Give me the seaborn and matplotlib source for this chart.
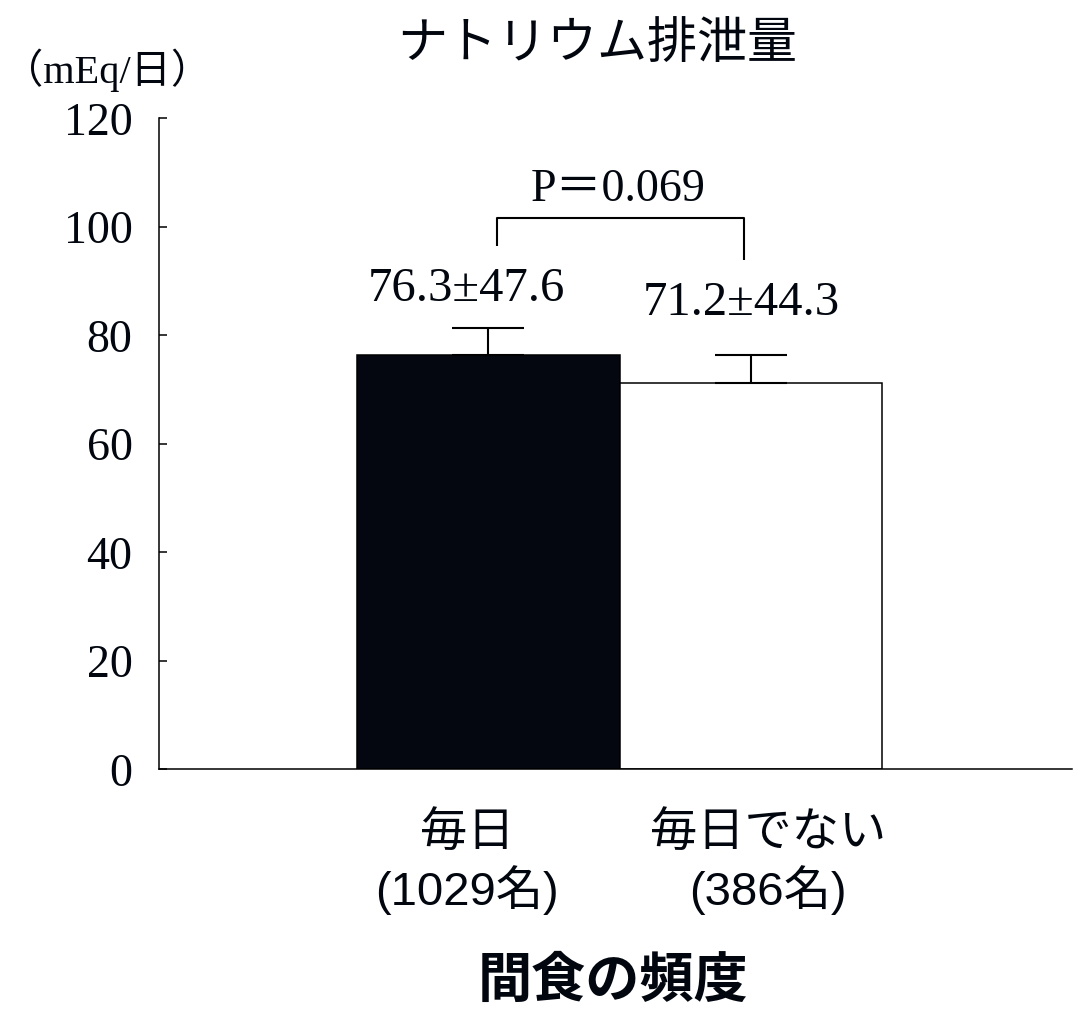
import matplotlib
matplotlib.use("Agg")
import matplotlib.pyplot as plt
from matplotlib.transforms import ScaledTranslation
import seaborn as sns
import pandas as pd

# Data
categories = ["毎日\n(1029名)", "毎日でない\n(386名)"]
means = [76.3, 71.2]
errors = [5.0, 5.1]
value_labels = ["76.3±47.6", "71.2±44.3"]
p_label = "P＝0.069"
yticks = [0, 20, 40, 60, 80, 100, 120]

title = "ナトリウム排泄量"
unit_label = "（mEq/日）"
x_title = "間食の頻度"

sns.set_theme(style="white")
plt.rcParams["font.family"] = ["Liberation Serif", "Noto Sans CJK JP"]

ink = "#02060f"
bar_colors = ["#020611", "#ffffff"]

fig = plt.figure(figsize=(10.74, 10.11), dpi=100)
ax = fig.add_axes([0.148, 0.239, 0.850, 0.644])

df = pd.DataFrame({"cat": categories, "val": means})
sns.barplot(data=df, x="cat", y="val", hue="cat", palette=bar_colors,
            edgecolor="black", linewidth=1.1, width=1.0, errorbar=None,
            legend=False, ax=ax)

# upper-only error bars
xs = list(range(len(means)))
ax.errorbar(xs, means, yerr=[[0] * len(errors), errors], fmt="none",
            ecolor="black", elinewidth=1.5, capsize=26, capthick=1.5, zorder=3)

ax.set_xlim(-1.255, 2.223)
ax.set_ylim(0, 120)
ax.set_yticks(yticks)
ax.set_yticklabels([str(t) for t in yticks])
ax.set_xlabel("")
ax.set_ylabel("")

for side in ["top", "right"]:
    ax.spines[side].set_visible(False)
for side in ["left", "bottom"]:
    ax.spines[side].set_color("black")
    ax.spines[side].set_linewidth(1.1)

ax.tick_params(axis="y", direction="in", length=6, width=1.1, color="black",
               pad=19, labelsize=33, labelcolor=ink, left=True)
ax.tick_params(axis="x", length=0, pad=31, labelcolor=ink)
for lbl, dx in zip(ax.get_xticklabels(), [-21, 17]):
    lbl.set_fontfamily(["Liberation Sans", "Noto Sans CJK JP"])
    lbl.set_fontsize(34)
    lbl.set_linespacing(1.22)
    lbl.set_multialignment("center")
    lbl.set_transform(lbl.get_transform() + ScaledTranslation(dx / 100, 0, fig.dpi_scale_trans))

# value labels above each bar
label_dx = [-0.082, -0.035]
label_gap = [5.1, 7.4]
for x, m, e, t, dx, g in zip(xs, means, errors, value_labels, label_dx, label_gap):
    ax.text(x + dx, m + e + g, t, ha="center", va="baseline", fontsize=35, color=ink)

# significance bracket
br_top = max(m + e for m, e in zip(means, errors)) + 20.3
legs = [br_top - 5.1, br_top - 7.7]
bx = [xs[0] + 0.032, xs[1] - 0.025]
ax.plot([bx[0], bx[0], bx[1], bx[1]], [legs[0], br_top, br_top, legs[1]],
        color="black", lw=1.5, solid_capstyle="butt", clip_on=False)
ax.text((bx[0] + bx[1]) / 2 - 0.01, br_top + 3.2, p_label, ha="center", va="baseline",
        fontsize=33, color=ink)

fig.text(597 / 1074, 1 - 44 / 1011, title, ha="center", va="center",
         fontsize=36, color=ink, family=["Noto Sans CJK JP"])
fig.text(3 / 1074, 1 - 70 / 1011, unit_label, ha="left", va="center",
         fontsize=29, color=ink, family=["Liberation Serif", "Noto Sans CJK JP"])
fig.text(613 / 1074, 1 - 981 / 1011, x_title, ha="center", va="center",
         fontsize=39, fontweight="bold", color=ink, family=["Noto Sans CJK JP"])

fig.savefig("out.png", dpi=100, facecolor="white")
